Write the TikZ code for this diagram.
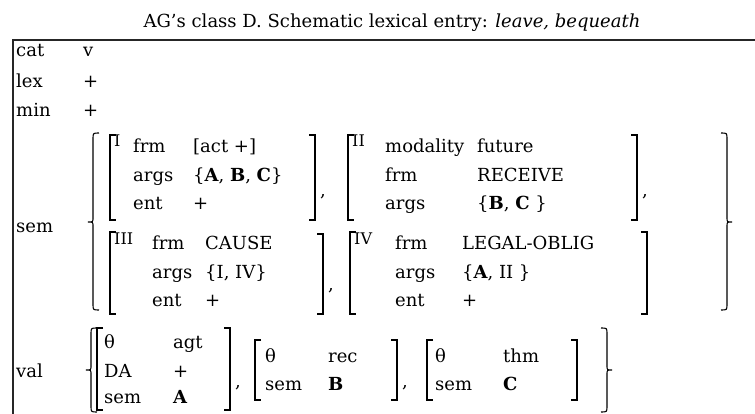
\documentclass[tikz,border=0pt]{standalone}
\usepackage{fontspec}
\setmainfont{DejaVu Serif}
\usetikzlibrary{positioning}

% square brackets and tall braces, drawn at pixel-like coordinates
\newcommand{\openbrk}[3]{\draw[brk] ({#1+6},#2) -- (#1,#2) -- (#1,#3) -- ({#1+6},#3);}
\newcommand{\closebrk}[3]{\draw[brk] ({#1-6},#2) -- (#1,#2) -- (#1,#3) -- ({#1-6},#3);}
\newcommand{\openbrc}[4]{\draw[brk] ({#1+6},#2) .. controls (#1,#2) .. (#1,{#2+6}) -- (#1,{#3-4})
  .. controls (#1,#3) .. ({#1-5},#3) .. controls (#1,#3) .. (#1,{#3+4}) -- (#1,{#4-6})
  .. controls (#1,#4) .. ({#1+6},#4);}
\newcommand{\closebrc}[4]{\draw[brk] ({#1-6},#2) .. controls (#1,#2) .. (#1,{#2+6}) -- (#1,{#3-4})
  .. controls (#1,#3) .. ({#1+5},#3) .. controls (#1,#3) .. (#1,{#3+4}) -- (#1,{#4-6})
  .. controls (#1,#4) .. ({#1-6},#4);}

\begin{document}
\begin{tikzpicture}[
  x=1pt, y=-1pt,
  font=\fontsize{18}{22}\selectfont,
  feat/.style={anchor=base west, inner sep=0pt},
  tag/.style={anchor=base west, inner sep=0pt, font=\fontsize{16}{18}\selectfont},
  brk/.style={line width=1.1pt},
  frame/.style={line width=1.4pt, draw=black!85}
]
\useasboundingbox (0,0) rectangle (755,414);

\node[anchor=base] (title) at (392,28) {AG's class D. Schematic lexical entry: \textit{leave, bequeath}};
\draw[frame] (13,414) -- (13,40) -- (755,40);

% top-level features
\node[feat] (catL) at (16,57) {cat};
\node[feat] (catV) at (83,57) {v};
\node[feat] (lexL) at (16,88) {lex};
\node[feat] (lexV) at (83,88) {+};
\node[feat] (minL) at (16,117) {min};
\node[feat] (minV) at (83,117) {+};
\node[feat] (semL) at (16,233) {sem};
\node[feat] (valL) at (16,377) {val};

% sem: frame I
\openbrc{93}{133}{222}{310}
\openbrk{110}{135}{220}
\node[tag] (tagI) at (114,147) {I};
\node[feat] (frmI) at (133,153) {frm};
\node[feat] (frmIV) at (193,153) {[act +]};
\node[feat] (argsI) at (133,182) {args};
\node[feat] (argsIV) at (193,182) {\{\textbf{A}, \textbf{B}, \textbf{C}\}};
\node[feat] (entI) at (133,210) {ent};
\node[feat] (entIV) at (193,210) {+};
\closebrk{315}{135}{220}
\node[feat] (commaI) at (320,197) {,};

% sem: frame II
\openbrk{348}{135}{220}
\node[tag] (tagII) at (352,147) {II};
\node[feat] (modII) at (385,153) {modality};
\node[feat] (modIIV) at (477,153) {future};
\node[feat] (frmII) at (385,182) {frm};
\node[feat] (frmIIV) at (477,182) {RECEIVE};
\node[feat] (argsII) at (385,210) {args};
\node[feat] (argsIIV) at (477,210) {\{\textbf{B}, \textbf{C} \}};
\closebrk{637}{135}{220}
\node[feat] (commaII) at (642,197) {,};

% sem: frame III
\openbrk{110}{232}{314}
\node[tag] (tagIII) at (114,244) {III};
\node[feat] (frmIII) at (152,250) {frm};
\node[feat] (frmIIIV) at (205,250) {CAUSE};
\node[feat] (argsIII) at (152,278) {args};
\node[feat] (argsIIIV) at (205,278) {\{I, IV\}};
\node[feat] (entIII) at (152,306) {ent};
\node[feat] (entIIIV) at (205,306) {+};
\closebrk{323}{234}{314}
\node[feat] (commaIII) at (328,290) {,};

% sem: frame IV
\openbrk{350}{232}{314}
\node[tag] (tagIV) at (354,244) {IV};
\node[feat] (frmIV) at (395,250) {frm};
\node[feat] (frmIVV) at (462,250) {LEGAL-OBLIG};
\node[feat] (argsIV) at (395,278) {args};
\node[feat] (argsIVV) at (462,278) {\{\textbf{A}, II \}};
\node[feat] (entIV) at (395,306) {ent};
\node[feat] (entIVV) at (462,306) {+};
\closebrk{647}{232}{314}
\closebrc{727}{133}{222}{310}

% val: three role structures
\openbrc{91}{328}{370}{412}
\openbrk{97}{328}{410}
\node[feat] (thA) at (104,348) {θ};
\node[feat] (thAV) at (173,348) {agt};
\node[feat] (daA) at (104,377) {DA};
\node[feat] (daAV) at (173,377) {+};
\node[feat] (semA) at (104,403) {sem};
\node[feat] (semAV) at (173,403) {\textbf{A}};
\closebrk{230}{328}{410}
\node[feat] (commaA) at (235,387) {,};

\openbrk{255}{340}{400}
\node[feat] (thB) at (265,362) {θ};
\node[feat] (thBV) at (328,362) {rec};
\node[feat] (semB) at (265,390) {sem};
\node[feat] (semBV) at (328,390) {\textbf{B}};
\closebrk{397}{340}{400}
\node[feat] (commaB) at (402,387) {,};

\openbrk{427}{340}{400}
\node[feat] (thC) at (435,362) {θ};
\node[feat] (thCV) at (503,362) {thm};
\node[feat] (semC) at (435,390) {sem};
\node[feat] (semCV) at (503,390) {\textbf{C}};
\closebrk{577}{340}{400}
\closebrc{607}{328}{370}{412}

\end{tikzpicture}
\end{document}
